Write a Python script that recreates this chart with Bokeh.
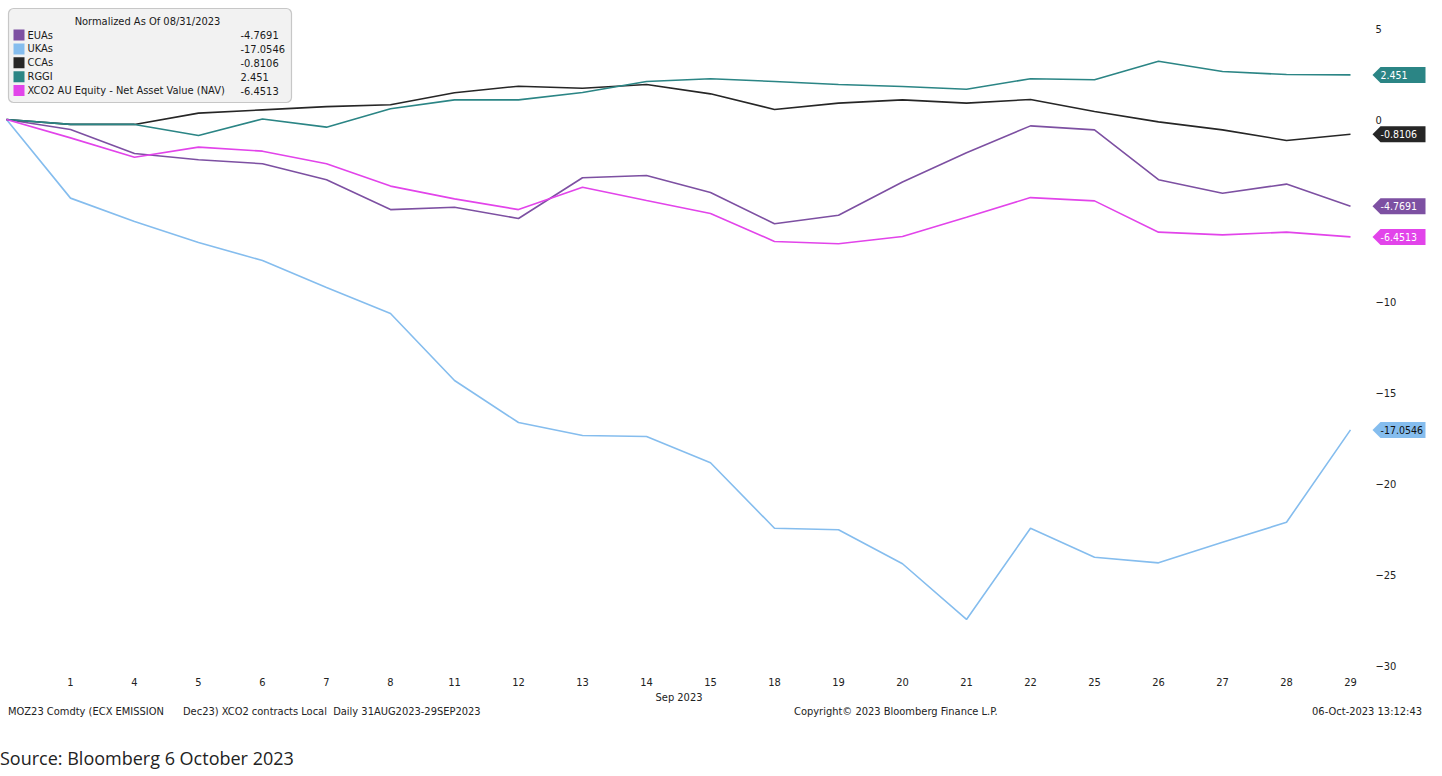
from bokeh.plotting import figure
from bokeh.models import (Range1d, FixedTicker, BoxAnnotation, Label, PolyAnnotation, Div,
                          LinearAxis, Title)
from bokeh.layouts import column
from bokeh.embed import file_html
from bokeh.resources import INLINE

# ---------------- data ----------------
dates = ["2023-08-31", "2023-09-01", "2023-09-04", "2023-09-05", "2023-09-06", "2023-09-07",
         "2023-09-08", "2023-09-11", "2023-09-12", "2023-09-13", "2023-09-14", "2023-09-15",
         "2023-09-18", "2023-09-19", "2023-09-20", "2023-09-21", "2023-09-22", "2023-09-25",
         "2023-09-26", "2023-09-27", "2023-09-28", "2023-09-29"]
day_labels = ["", "1", "4", "5", "6", "7", "8", "11", "12", "13", "14", "15",
              "18", "19", "20", "21", "22", "25", "26", "27", "28", "29"]

series_names = ["EUAs", "UKAs", "CCAs", "RGGI", "XCO2 AU Equity - Net Asset Value (NAV)"]
euas = [0, -0.55, -1.87, -2.21, -2.43, -3.31, -4.95, -4.82, -5.44, -3.20, -3.08, -4.01,
        -5.73, -5.26, -3.43, -1.83, -0.35, -0.57, -3.31, -4.05, -3.55, -4.7691]
ukas = [0, -4.32, -5.60, -6.76, -7.75, -9.23, -10.66, -14.34, -16.65, -17.36, -17.42, -18.86,
        -22.46, -22.54, -24.41, -27.47, -22.46, -24.05, -24.36, -23.23, -22.13, -17.0546]
ccas = [0, -0.27, -0.27, 0.35, 0.53, 0.71, 0.81, 1.47, 1.83, 1.72, 1.92, 1.41,
        0.55, 0.90, 1.08, 0.90, 1.10, 0.44, -0.13, -0.57, -1.15, -0.8106]
rggi = [0, -0.27, -0.27, -0.88, 0.03, -0.42, 0.59, 1.08, 1.08, 1.48, 2.09, 2.24,
        2.09, 1.92, 1.81, 1.66, 2.24, 2.18, 3.20, 2.64, 2.47, 2.451]
xco2 = [0, -1.01, -2.07, -1.52, -1.74, -2.43, -3.66, -4.36, -4.95, -3.72, -4.45, -5.16,
        -6.70, -6.83, -6.43, -5.37, -4.29, -4.47, -6.19, -6.34, -6.19, -6.4513]
series_values = [euas, ukas, ccas, rggi, xco2]
colors = ["#7d50a2", "#85bdee", "#262626", "#2b8585", "#e244ea"]
tag_text_colors = ["white", "#111111", "white", "white", "white"]
y_ticks = [5, 0, -10, -15, -20, -25, -30]
legend_title = "Normalized As Of 08/31/2023"
x_axis_title = "Sep 2023"

FONT = "DejaVu Sans Condensed"

# ---------------- geometry (pixels of the page) ----------------
FW, FH = 1432, 675
X0 = -6 / 64.0
X1 = X0 + FW / 64.0
Y1 = 119 / 18.2
Y0 = Y1 - FH / 18.2


def px(xp):
    return X0 + xp * (X1 - X0) / FW


def py(yp):
    return Y1 - yp * (Y1 - Y0) / FH


p = figure(frame_width=FW, frame_height=FH,
           x_range=Range1d(X0, X1), y_range=Range1d(Y0, Y1),
           output_backend="svg", toolbar_location=None, y_axis_location=None,
           min_border_left=0, min_border_top=0, min_border_right=0, min_border_bottom=0)
p.outline_line_color = None
p.grid.visible = False
p.background_fill_color = "white"
p.border_fill_color = "white"

idx = list(range(len(dates)))

# x axis
p.xaxis.ticker = FixedTicker(ticks=idx)
p.xaxis.major_label_overrides = {i: lab for i, lab in zip(idx, day_labels)}
p.xaxis.axis_line_color = None
p.xaxis.major_tick_line_color = None
p.xaxis.minor_tick_line_color = None
p.xaxis.major_tick_out = 0
p.xaxis.major_tick_in = 0
p.xaxis.major_label_standoff = 2
p.xaxis.major_label_text_font = FONT
p.xaxis.major_label_text_font_size = "11px"
p.xaxis.major_label_text_color = "#222222"

p.add_layout(Title(text=x_axis_title, align="left", offset=655, standoff=0,
                   text_font=FONT, text_font_size="11px", text_font_style="normal",
                   text_color="#222222"), "below")

# y axis at the right, drawn inside the frame column used by the value tags
yax = LinearAxis(ticker=FixedTicker(ticks=y_ticks), fixed_location=px(1389),
                 axis_line_color=None, major_tick_line_color=None, minor_tick_line_color=None,
                 major_tick_out=0, major_tick_in=0, major_label_standoff=-14,
                 major_label_text_font=FONT, major_label_text_font_size="11px",
                 major_label_text_color="#222222")
p.add_layout(yax, "right")

# lines
for vals, col in zip(series_values, colors):
    p.line(x=idx, y=vals, line_color=col, line_width=1.6)

# legend box
p.add_layout(BoxAnnotation(left=px(8), right=px(291), top=py(8), bottom=py(102),
                           fill_color="#f2f2f2", fill_alpha=1, line_color="#555555",
                           line_width=1.2, border_radius=5))
p.add_layout(Label(x=px(147), y=py(21), text=legend_title,
                   text_align="center", text_baseline="middle", text_font=FONT,
                   text_font_size="11px", text_color="#1a1a1a"))
for i, (name, vals, col) in enumerate(zip(series_names, series_values, colors)):
    yc = 34.5 + 13.9 * i
    p.add_layout(BoxAnnotation(left=px(13), right=px(24), top=py(yc - 5.5), bottom=py(yc + 5.5),
                               fill_color=col, fill_alpha=1, line_color=None))
    p.add_layout(Label(x=px(27), y=py(yc), text=name, text_align="left", text_baseline="middle",
                       text_font=FONT, text_font_size="11px", text_color="#1a1a1a"))
    p.add_layout(Label(x=px(240), y=py(yc), text=f"{vals[-1]}", text_align="left",
                       text_baseline="middle", text_font=FONT, text_font_size="11px",
                       text_color="#1a1a1a"))

# last value tags
hh = 8 * (Y1 - Y0) / FH
for vals, col, tcol in zip(series_values, colors, tag_text_colors):
    v = vals[-1]
    xs = [px(1372), px(1380), px(1425), px(1425), px(1380)]
    ys = [v, v + hh, v + hh, v - hh, v - hh]
    p.add_layout(PolyAnnotation(xs=xs, ys=ys, fill_color=col, fill_alpha=1, line_color=None))
    p.add_layout(Label(x=px(1380), y=v, text=f"{v}", text_align="left", text_baseline="middle",
                       text_font=FONT, text_font_size="10.5px", text_color=tcol))

footer = Div(text="""<div style="position:relative;width:1432px;height:66px;font-family:'DejaVu Sans Condensed','DejaVu Sans';font-size:11px;color:#222;">
<span style="position:absolute;left:3px;top:-4px;white-space:pre">MOZ23 Comdty (ECX EMISSION</span>
<span style="position:absolute;left:178px;top:-4px;white-space:pre">Dec23) XCO2 contracts Local  Daily 31AUG2023-29SEP2023</span>
<span style="position:absolute;left:789px;top:-4px;white-space:pre">Copyright© 2023 Bloomberg Finance L.P.</span>
<span style="position:absolute;right:15px;top:-4px;white-space:pre">06-Oct-2023 13:12:43</span>
<span style="position:absolute;left:-5px;top:38px;font-family:'Open Sans';font-size:18px;color:#222;white-space:pre">Source: Bloomberg 6 October 2023</span>
</div>""", width=1432, height=66)

layout = column(p, footer, spacing=0)
open("out.html", "w").write(file_html(layout, INLINE))
